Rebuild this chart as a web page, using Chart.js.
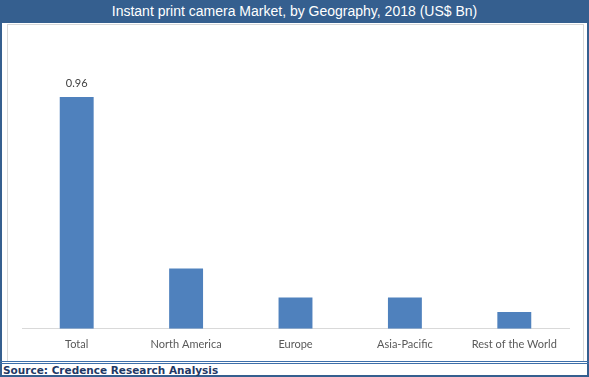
<!DOCTYPE html>
<html>
<head>
<meta charset="utf-8">
<script src="https://cdn.jsdelivr.net/npm/chart.js@4/dist/chart.umd.min.js"></script>
<style>
  html, body { margin: 0; padding: 0; background: #fff; }
  #wrap { position: relative; width: 589px; height: 377px; overflow: hidden; background: #fff; }
  #title { position: absolute; left: 0; top: 0; width: 589px; height: 23px; background: #355F8F;
           color: #fff; font: 14px "Liberation Sans", Arial, sans-serif; text-align: center; line-height: 23px; }
  #lb { position: absolute; left: 0; top: 23px; width: 2px; height: 354px; background: #355F8F; }
  #rb { position: absolute; left: 587px; top: 23px; width: 2px; height: 354px; background: #355F8F; }
  #bb { position: absolute; left: 0; top: 375px; width: 589px; height: 2px; background: #355F8F; }
  #inner { position: absolute; left: 7px; top: 24px; width: 575px; height: 336px; border: 1px solid #d9d9d9; border-bottom: none; }
  #l1 { position: absolute; left: 0; top: 361px; width: 589px; height: 1px; background: #3D6FAA; }
  #l2 { position: absolute; left: 0; top: 363px; width: 589px; height: 1px; background: #3D6FAA; }
  #src { position: absolute; left: 3px; top: 364px; height: 12px; color: #1F3864;
         font: bold 10.5px "DejaVu Sans", Verdana, sans-serif; line-height: 12px; }
  #cv { position: absolute; left: 8px; top: 25px; }
</style>
</head>
<body>
<div id="wrap">
  <div id="title">Instant print camera Market, by Geography, 2018 (US$ Bn)</div>
  <div id="inner"></div>
  <div id="lb"></div><div id="rb"></div><div id="bb"></div>
  <div id="l1"></div><div id="l2"></div>
  <div id="src">Source: Credence Research Analysis</div>
  <canvas id="cv" width="574" height="335"></canvas>
</div>
<script>
const categories = ["Total", "North America", "Europe", "Asia-Pacific", "Rest of the World"];
const values = [0.96, 0.25, 0.13, 0.13, 0.07];
const labelShown = [true, false, false, false, false];

const labelPlugin = {
  id: 'valLabels',
  afterDatasetsDraw(chart) {
    const ctx = chart.ctx;
    const meta = chart.getDatasetMeta(0);
    ctx.save();
    ctx.font = '11px Lato, "Liberation Sans", sans-serif';
    ctx.fillStyle = '#404040';
    ctx.textAlign = 'center';
    ctx.textBaseline = 'bottom';
    meta.data.forEach((bar, i) => {
      if (!labelShown[i]) return;
      ctx.fillText(values[i].toFixed(2), bar.x, bar.y - 8);
    });
    ctx.restore();
  }
};

new Chart(document.getElementById('cv'), {
  type: 'bar',
  data: {
    labels: categories,
    datasets: [{ data: values, backgroundColor: '#4F81BD', borderWidth: 0,
                 categoryPercentage: 1, barPercentage: 0.31 }]
  },
  options: {
    responsive: false,
    animation: false,
    layout: { padding: { left: 14, right: 13, top: 14, bottom: 0 } },
    plugins: { legend: { display: false }, title: { display: false }, tooltip: { enabled: false } },
    scales: {
      x: {
        grid: { display: false, drawTicks: false },
        border: { display: true, color: '#d9d9d9', width: 1 },
        ticks: { color: '#595959', font: { family: 'Lato, "Liberation Sans", sans-serif', size: 11 }, padding: 9, maxRotation: 0 }
      },
      y: { display: false, min: 0, max: 1.2 }
    }
  },
  plugins: [labelPlugin]
});
</script>
</body>
</html>
